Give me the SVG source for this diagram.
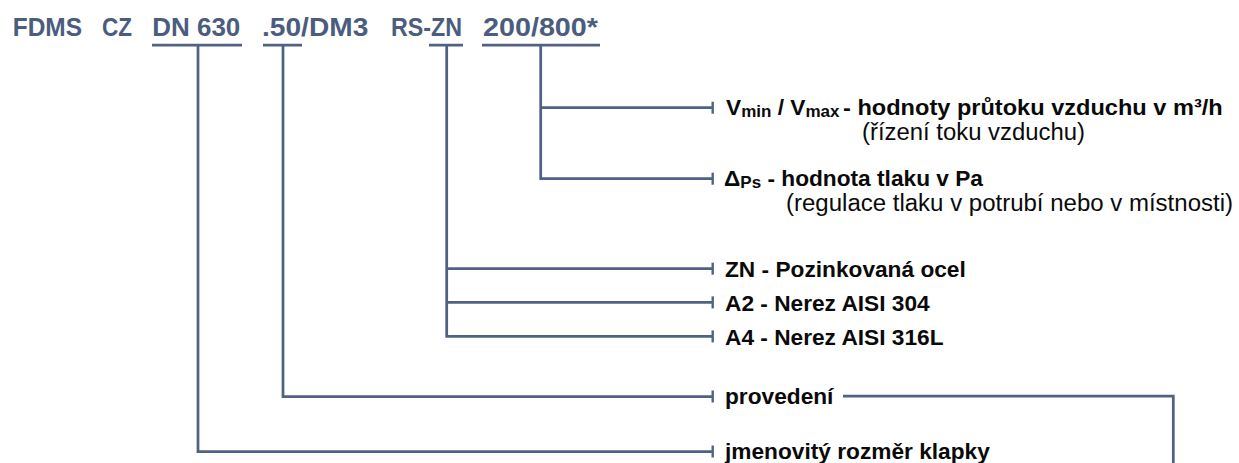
<svg xmlns="http://www.w3.org/2000/svg" width="1239" height="463" viewBox="0 0 1239 463">
<style>
.code{font-family:"Liberation Sans",Arial,sans-serif;font-weight:bold;font-size:26.5px;fill:#4a5d7e}
.lbl{font-family:"Liberation Sans",Arial,sans-serif;font-weight:bold;font-size:22.7px;fill:#0a0a0a}
.sub{font-family:"Liberation Sans",Arial,sans-serif;font-weight:normal;font-size:23px;fill:#0a0a0a}
.sm{font-size:17px}
.ln{fill:none;stroke:#4f6283;stroke-width:2.75;stroke-linejoin:miter}
</style>
<defs>
<marker id="tick" markerUnits="userSpaceOnUse" markerWidth="4" markerHeight="14" refX="1.2" refY="7" orient="auto" overflow="visible">
<line x1="1.2" y1="1" x2="1.2" y2="13" stroke="#4f6283" stroke-width="2.4"/>
</marker>
</defs>
<rect width="1239" height="463" fill="#ffffff"/>

<g id="code-fdms"><text class="code" x="12.7" y="35.7" textLength="69.3" lengthAdjust="spacingAndGlyphs">FDMS</text></g>
<g id="code-cz"><text class="code" x="102" y="35.7" textLength="30" lengthAdjust="spacingAndGlyphs">CZ</text></g>
<g id="code-dn"><text class="code" x="152.3" y="35.7" textLength="88" lengthAdjust="spacingAndGlyphs">DN 630</text></g>
<g id="code-dm3"><text class="code" x="262" y="35.7" textLength="106.3" lengthAdjust="spacingAndGlyphs">.50/DM3</text></g>
<g id="code-rszn"><text class="code" x="391" y="35.7" textLength="71" lengthAdjust="spacingAndGlyphs">RS-ZN</text></g>
<g id="code-flow"><text class="code" x="483" y="35.7" textLength="115" lengthAdjust="spacingAndGlyphs">200/800*</text></g>

<g id="connectors">
<line class="ln" x1="152" y1="45" x2="242" y2="45"/>
<line class="ln" x1="263" y1="45" x2="302" y2="45"/>
<line class="ln" x1="429" y1="45" x2="463" y2="45"/>
<line class="ln" x1="482" y1="45" x2="600" y2="45"/>
<path class="ln" d="M540.7,45 V178.7 H712.7" marker-end="url(#tick)"/>
<path class="ln" d="M540.7,107.7 H712.7" marker-end="url(#tick)"/>
<path class="ln" d="M446.7,45 V336.4 H712.7" marker-end="url(#tick)"/>
<path class="ln" d="M446.7,268.7 H712.7" marker-end="url(#tick)"/>
<path class="ln" d="M446.7,302.4 H712.7" marker-end="url(#tick)"/>
<path class="ln" d="M283,45 V396.5 H712.7" marker-end="url(#tick)"/>
<path class="ln" d="M198,45 V451.5 H712.7" marker-end="url(#tick)"/>
<path class="ln" d="M843,396.2 H1173.3 V470"/>
</g>

<g id="label-flow">
<text class="lbl" x="726" y="114.5">V<tspan class="sm" dy="2">min</tspan><tspan dy="-2"> / V</tspan><tspan class="sm" dy="2">max</tspan></text>
<text class="lbl" x="843" y="114.5" textLength="379.7" lengthAdjust="spacingAndGlyphs">- hodnoty průtoku vzduchu v m³/h</text>
<text class="sub" x="862" y="140" textLength="223" lengthAdjust="spacingAndGlyphs">(řízení toku vzduchu)</text>
</g>
<g id="label-pressure">
<text class="lbl" x="724" y="185.5">Δ<tspan class="sm" dy="2">Ps</tspan><tspan dy="-2"> - hodnota tlaku v Pa</tspan></text>
<text class="sub" x="786" y="211" textLength="447" lengthAdjust="spacingAndGlyphs">(regulace tlaku v potrubí nebo v místnosti)</text>
</g>
<g id="label-zn"><text class="lbl" x="725" y="277">ZN - Pozinkovaná ocel</text></g>
<g id="label-a2"><text class="lbl" x="725" y="310.5">A2 - Nerez AISI 304</text></g>
<g id="label-a4"><text class="lbl" x="725" y="344.5">A4 - Nerez AISI 316L</text></g>
<g id="label-provedeni"><text class="lbl" x="725" y="403.5">provedení</text></g>
<g id="label-size"><text class="lbl" x="725" y="458.5">jmenovitý rozměr klapky</text></g>
</svg>
